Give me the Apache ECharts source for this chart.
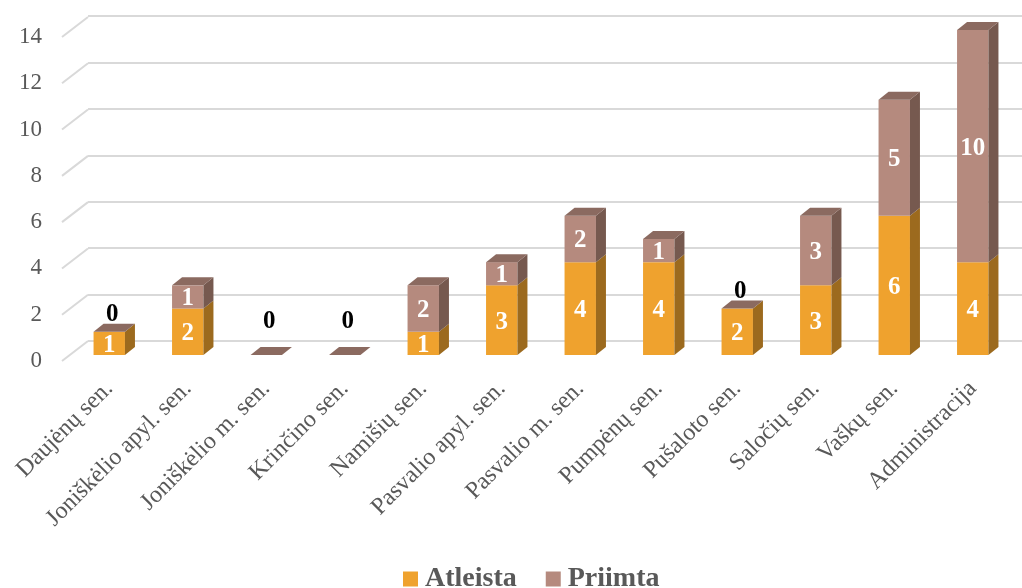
<!DOCTYPE html>
<html><head><meta charset="utf-8">
<script src="https://cdn.jsdelivr.net/npm/echarts@6/dist/echarts.min.js"></script>
<style>html,body{margin:0;padding:0;background:#fff}#c{width:1022px;height:588px}</style>
</head><body><div id="c"></div>
<script>
const categories = ["Daujėnų sen.","Joniškėlio apyl. sen.","Joniškėlio m. sen.","Krinčino sen.","Namišių sen.","Pasvalio apyl. sen.","Pasvalio m. sen.","Pumpėnų sen.","Pušaloto sen.","Saločių sen.","Vaškų sen.","Administracija"];
const atleista = [1,2,0,0,1,3,4,4,2,3,6,4];
const priimta  = [0,1,0,0,2,1,2,1,0,3,5,10];
const yTicks = [0,2,4,6,8,10,12,14];

const FONT = '"Liberation Serif","Times New Roman",serif';
const DX = 10, DY = -8;

function barRender(kind){
  return function(params, api){
    const i = api.value(0), base = api.value(1), v = api.value(2), total = api.value(3);
    const pTop = api.coord([i, base + v]);
    const pBase = api.coord([i, base]);
    const w = api.size([1,0])[0] * 0.4;
    const cx = pTop[0];
    const x0 = cx - w/2, x1 = cx + w/2;
    const yT = pTop[1], yB = pBase[1];
    const front = kind === 'a' ? '#EFA22E' : '#B58A7E';
    const side  = kind === 'a' ? '#9C6A1E' : '#76594F';
    const top   = '#8B6A60';
    const children = [];
    if (v > 0) {
      children.push({type:'rect', shape:{x:x0, y:yT, width:w, height:yB-yT}, style:{fill:front}});
      children.push({type:'polygon', shape:{points:[[x1,yB],[x1+DX,yB+DY],[x1+DX,yT+DY],[x1,yT]]}, style:{fill:side}});
      children.push({type:'text', x:cx, y:(yT+yB)/2 + 2, style:{text:String(v), fill:'#ffffff', font:'bold 25px '+FONT, align:'center', verticalAlign:'middle'}});
    }
    if (kind === 'p') {
      children.push({type:'polygon', shape:{points:[[x0,yT],[x1,yT],[x1+DX,yT+DY],[x0+DX,yT+DY]]}, style:{fill:top}});
      if (v === 0) {
        const off = total === 0 ? 33 : 17;
        children.push({type:'text', x:cx+3, y:yT-off, style:{text:'0', fill:'#000000', font:'bold 25px '+FONT, align:'center', verticalAlign:'middle'}});
      }
    }
    return {type:'group', children};
  };
}

const aData = categories.map((c,i)=>[i, 0, atleista[i], atleista[i]+priimta[i]]);
const pData = categories.map((c,i)=>[i, atleista[i], priimta[i], atleista[i]+priimta[i]]);

const chart = echarts.init(document.getElementById('c'));
chart.setOption({
  animation:false,
  backgroundColor:'#ffffff',
  grid:[
    {left:70, right:10, top:30, height:325},
    {left:88, right:0, top:16, height:325},
    {left:62, width:26, top:37, height:324}
  ],
  xAxis:[
    {gridIndex:0, type:'category', data:categories, axisLine:{show:false}, axisTick:{show:false},
     axisLabel:{rotate:45, interval:0, margin:30, color:'#595959', fontSize:24, fontFamily:FONT}},
    {gridIndex:1, type:'value', min:0, max:1, show:false},
    {gridIndex:2, type:'value', min:0, max:1, show:false}
  ],
  yAxis:[
    {gridIndex:0, type:'value', min:0, max:14, interval:2, show:false},
    {gridIndex:1, type:'value', min:0, max:14, interval:2, axisLabel:{show:false}, axisLine:{show:false}, axisTick:{show:false},
     splitLine:{show:true, lineStyle:{color:'#d9d9d9', width:2}}},
    {gridIndex:2, type:'value', min:0, max:14, interval:2, axisLine:{show:false}, axisTick:{show:false}, splitLine:{show:false},
     axisLabel:{margin:20, color:'#595959', fontSize:23, fontFamily:FONT}}
  ],
  legend:{
    data:['Atleista','Priimta'], top:565, left:403, padding:0, icon:'rect', itemWidth:15, itemHeight:15, itemGap:29,
    textStyle:{color:'#595959', fontSize:28, fontWeight:'bold', fontFamily:FONT, padding:[0,0,0,2]}
  },
  series:[
    {type:'custom', name:'grid-diag', xAxisIndex:2, yAxisIndex:2, silent:true, z:1,
     data:yTicks.map(v=>[0,v]),
     renderItem:function(params, api){
       const p0 = api.coord([0, api.value(1)]);
       const p1 = api.coord([1, api.value(1)]);
       return {type:'line', shape:{x1:p0[0], y1:p0[1], x2:p1[0], y2:p1[1]-20}, style:{stroke:'#d9d9d9', lineWidth:2}};
     }},
    {type:'custom', name:'Atleista', xAxisIndex:0, yAxisIndex:0, z:3, itemStyle:{color:'#EFA22E'},
     data:aData, renderItem:barRender('a')},
    {type:'custom', name:'Priimta', xAxisIndex:0, yAxisIndex:0, z:4, itemStyle:{color:'#B58A7E'},
     data:pData, renderItem:barRender('p')}
  ]
});
</script></body></html>
